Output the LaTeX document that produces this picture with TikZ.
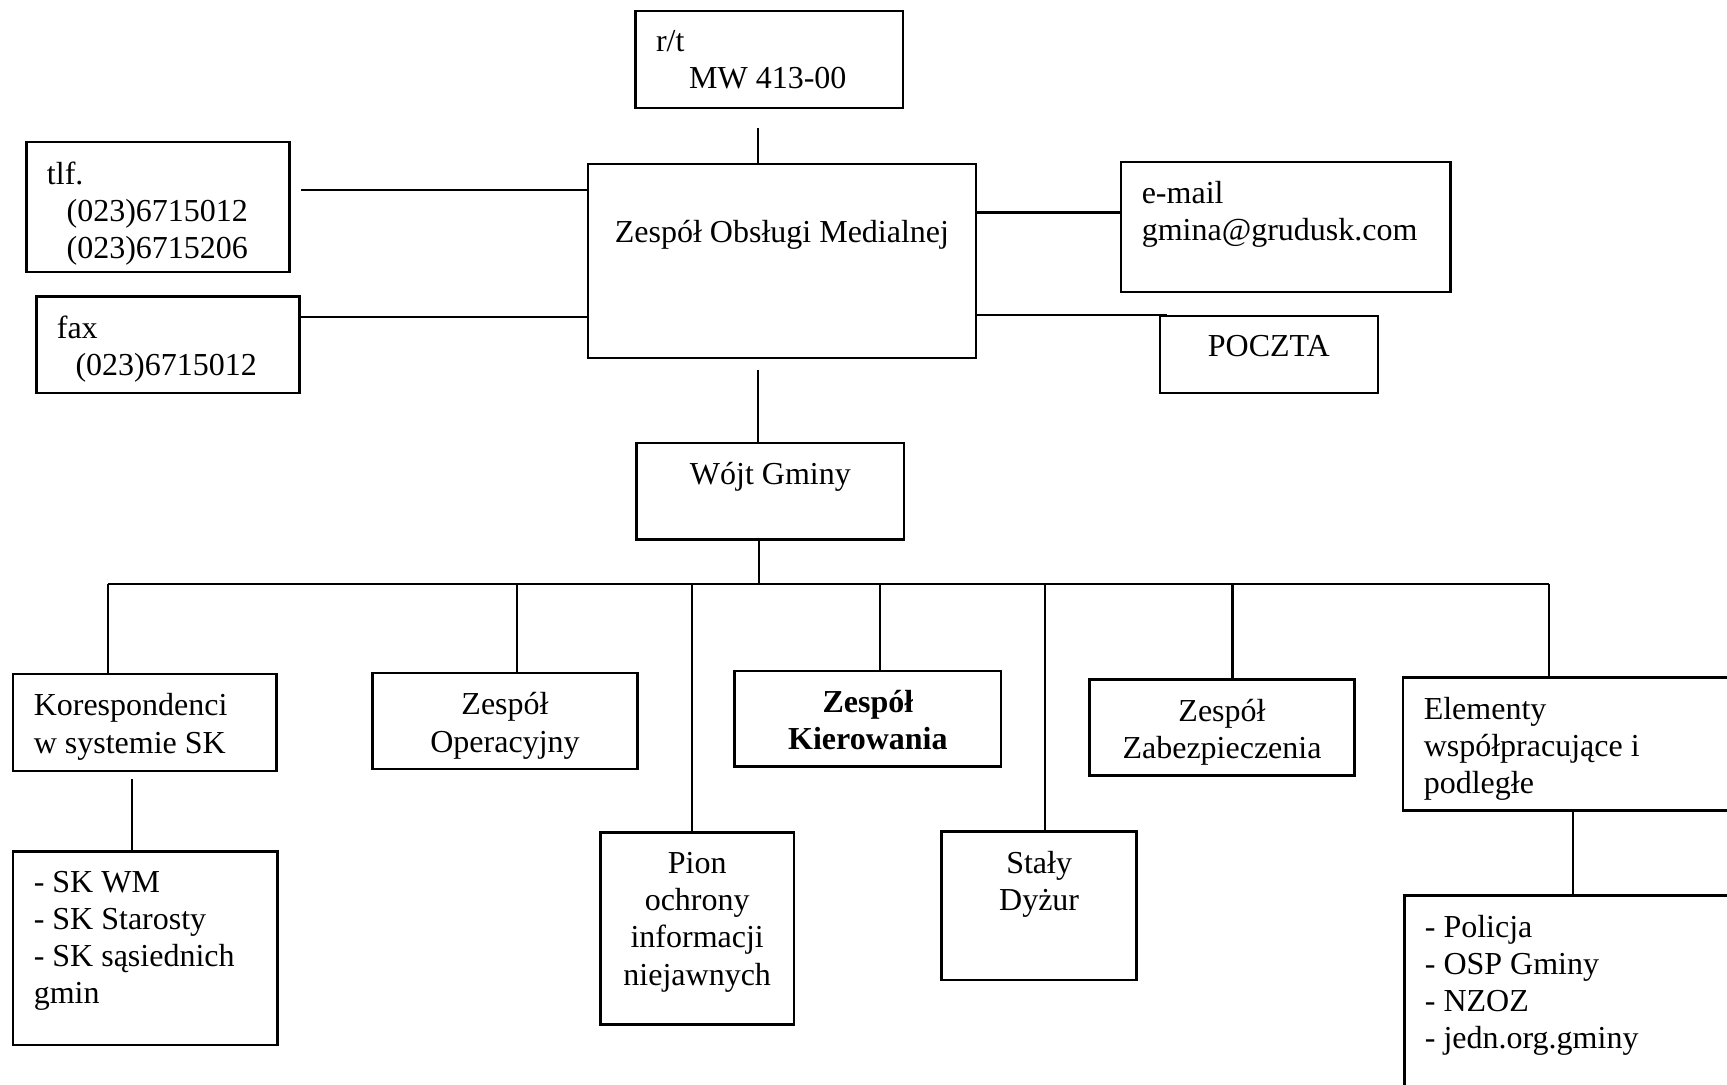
\documentclass[tikz,border=0pt]{standalone}
\usepackage{fontspec}
\setmainfont{Liberation Serif}
\usetikzlibrary{calc,fit}
\newcommand{\tekst}{\fontsize{9.1}{10.6}\selectfont}

\begin{document}
\begin{tikzpicture}[x=0.01cm,y=-0.01cm,
  ramka/.style={draw,line width=0.7pt,inner sep=0pt},
  lewy/.style={anchor=north west,align=left,font=\tekst,inner xsep=6pt,inner ysep=5.7pt},
  srodek/.style={anchor=north,align=center,font=\tekst,inner xsep=0pt,inner ysep=5.7pt},
  linia/.style={line width=0.6pt}]
\clip (0,0) rectangle (1727,1084);
\fill[white] (0,0) rectangle (1727,1084);

\node[ramka,fit={(635.5,11)(903.1,107.9)},label={[lewy]north west:{r/t\\\hspace*{9.4pt}MW 413-00}}] (rt) {};
\node[ramka,fit={(588.1,164.1)(975.8,358)},label={[srodek,yshift=-10.5pt]north:Zespół Obsługi Medialnej}] (zom) {};
\node[ramka,fit={(26.4,142.1)(289.7,272)},label={[lewy]north west:{tlf.\\\hspace*{5.6pt}(023)6715012\\\hspace*{5.6pt}(023)6715206}}] (tlf) {};
\node[ramka,fit={(36.3,296.3)(299.6,393.2)},label={[lewy]north west:{fax\\\hspace*{5.3pt}(023)6715012}}] (fax) {};
\node[ramka,fit={(1121.2,161.9)(1450.5,291.9)},label={[lewy]north west:{e-mail\\gmina@grudusk.com}}] (email) {};
\node[ramka,fit={(1159.8,316.1)(1377.9,393.2)},label={[srodek]north:POCZTA}] (poczta) {};
\node[ramka,fit={(636.6,442.8)(904.2,539.7)},label={[srodek]north:Wójt Gminy}] (wojt) {};

\node[ramka,fit={(13.2,674)(276.4,771)},label={[lewy]north west:{Korespondenci\\w systemie SK}}] (koresp) {};
\node[ramka,fit={(13.2,851.4)(277.6,1045.2)},label={[lewy]north west:{- SK WM\\- SK Starosty\\- SK sąsiednich\\gmin}}] (sk) {};
\node[ramka,fit={(372.3,673)(637.7,768.8)},label={[srodek]north:{Zespół\\Operacyjny}}] (zop) {};
\node[ramka,fit={(734.6,670.8)(1001.2,766.6)},label={[srodek,font=\tekst\bfseries]north:{Zespół\\Kierowania}}] (zkier) {};
\node[ramka,fit={(1089.3,679.6)(1354.7,775.4)},label={[srodek]north:{Zespół\\Zabezpieczenia}}] (zzab) {};
\node[ramka,fit={(1403.2,677.4)(1760,810.6)},label={[lewy]north west:{Elementy\\współpracujące i\\podległe}}] (elem) {};
\node[ramka,fit={(1404.3,895.4)(1760,1120)},label={[lewy]north west:{- Policja\\- OSP Gminy\\- NZOZ\\- jedn.org.gminy}}] (pol) {};
\node[ramka,fit={(600.3,832.7)(794.1,1024.3)},label={[srodek]north:{Pion\\ochrony\\informacji\\niejawnych}}] (pion) {};
\node[ramka,fit={(941.7,831.6)(1136.6,980.2)},label={[srodek]north:{Stały\\Dyżur}}] (staly) {};

\draw[linia] ([shift={(-11.5,19)}]rt.south) coordinate (r) -- (r |- zom.north);
\draw[linia] ([shift={(10,49.5)}]tlf.north east) coordinate (a) -- (a -| zom.west);
\draw[linia] ([shift={(0,22)}]fax.north east) coordinate (b) -- (b -| zom.west);
\draw[linia] ([shift={(0,51.8)}]email.north west) coordinate (e) -- (e -| zom.east);
\draw[linia] ([shift={(8,0)}]poczta.north west) coordinate (c) -- (c -| zom.east);
\draw[linia] ([shift={(-12.6,0)}]wojt.north) coordinate (w) -- ($(w |- zom.south)+(0,11)$);

\coordinate (szyna-l) at (107.9,583.7);
\coordinate (szyna-r) at (1548.6,583.7);
\draw[linia] (szyna-l) -- (szyna-r);
\draw[linia] ([shift={(-11.5,0)}]wojt.south) coordinate (v) -- (v |- szyna-l);
\foreach \x/\n in {107.9/koresp,516.6/zop,691.7/pion,880/zkier,1045.2/staly,1232.5/zzab,1548.6/elem}
{
  \coordinate (t) at (\x,583.7);
  \draw[linia] (t) -- (t |- \n.north);
}
\draw[linia] ([shift={(120.1,6.6)}]koresp.south west) coordinate (k) -- (k |- sk.north);
\draw[linia] ([shift={(170.7,0)}]elem.south west) coordinate (p) -- (p |- pol.north);
\end{tikzpicture}
\end{document}
